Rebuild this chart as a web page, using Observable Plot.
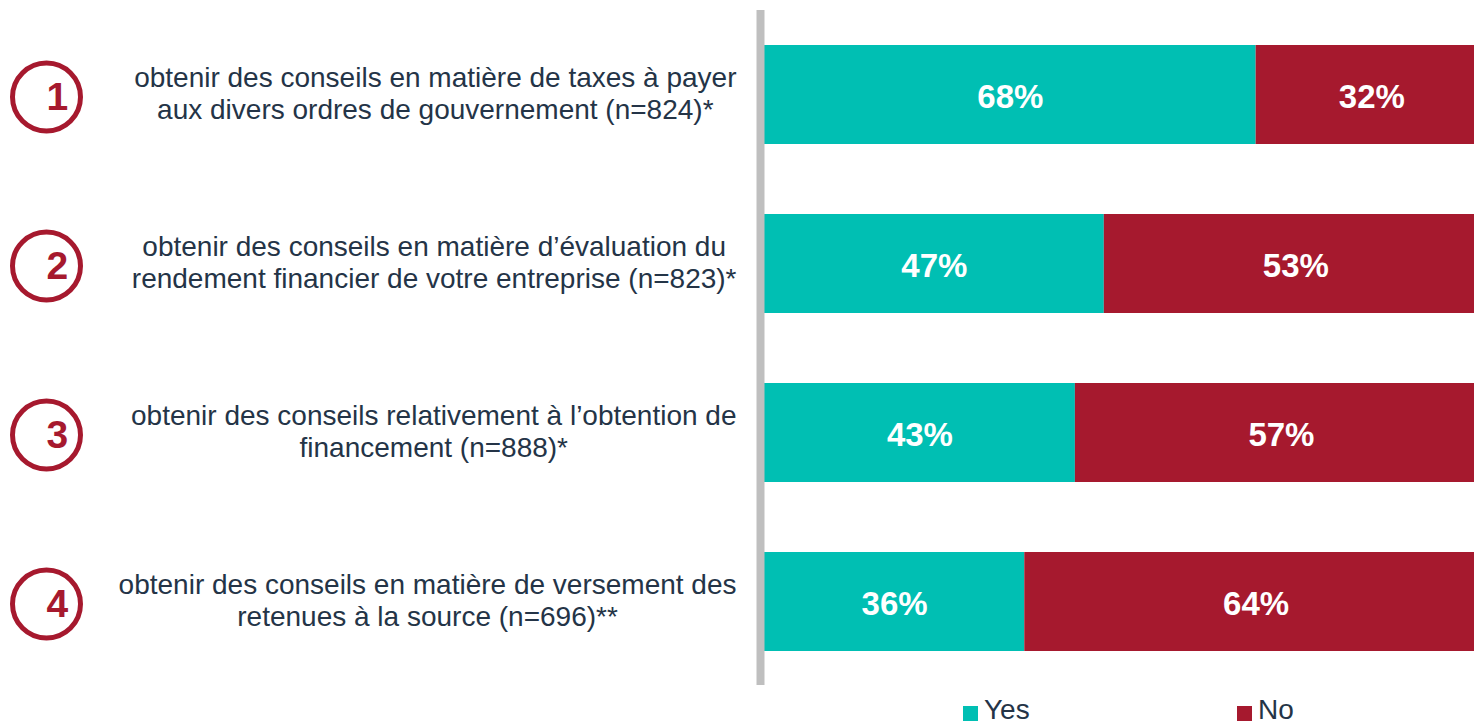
<!DOCTYPE html>
<html>
<head>
<meta charset="utf-8">
<script src="https://cdn.jsdelivr.net/npm/d3@7"></script>
<script src="https://cdn.jsdelivr.net/npm/@observablehq/plot@0.6"></script>
<style>
  html, body { margin: 0; padding: 0; background: #fff; overflow: hidden; }
  #wrap { position: relative; width: 1474px; height: 724px; overflow: hidden; font-family: "Liberation Sans", Arial, sans-serif; }
  #chart svg { display: block; overflow: hidden; }
  .legend { position: absolute; top: 696px; left: 0; width: 1474px; height: 28px; }
  .legend .item { position: absolute; top: 0; display: flex; align-items: center; font-size: 28px; line-height: 28px; color: #243447; }
  .legend .sw { width: 15px; height: 15px; margin-right: 6px; margin-top: 6px; }
</style>
</head>
<body>
<div id="wrap">
  <div id="chart"></div>
  <div class="legend" id="legend"></div>
</div>
<script>
const numbers = ["1", "2", "3", "4"];
const questions = [
  "obtenir des conseils en matière de taxes à payer\naux divers ordres de gouvernement (n=824)*",
  "obtenir des conseils en matière d’évaluation du\nrendement financier de votre entreprise (n=823)*",
  "obtenir des conseils relativement à l’obtention de\nfinancement (n=888)*",
  "obtenir des conseils en matière de versement des\nretenues à la source (n=696)**"
];
const yesValues = [68, 47, 43, 36];
const noValues = [32, 53, 57, 64];
const answers = ["Yes", "No"];
const colors = ["#00BFB3", "#A6192E"];

const rows = [];
numbers.forEach((n, i) => {
  rows.push({q: n, answer: "Yes", value: yesValues[i]});
  rows.push({q: n, answer: "No", value: noValues[i]});
});
const labels = numbers.map((n, i) => ({q: n, text: questions[i]}));

const labelSize = 28;
const ctx = document.createElement("canvas").getContext("2d");
ctx.font = `${labelSize}px 'Liberation Sans', Arial, sans-serif`;
function maxLineWidth(t) { return Math.max(...t.split("\n").map(l => ctx.measureText(l).width)); }
const labelGap = 28;

const plot = Plot.plot({
  width: 1474,
  height: 700,
  marginLeft: 764,
  marginRight: -13,
  marginTop: 10,
  marginBottom: 15,
  style: {fontFamily: "'Liberation Sans', Arial, sans-serif", background: "#fff"},
  x: {domain: [0, 100], axis: null},
  y: {domain: numbers, axis: null, paddingInner: 0.415, paddingOuter: 0.2},
  color: {domain: answers, range: colors},
  marks: [
    Plot.barX(rows, Plot.stackX({x: "value", y: "q", fill: "answer", z: "answer"})),
    Plot.text(rows, Plot.stackX({
      x: "value", y: "q", z: "answer",
      text: d => d.value + "%",
      fill: "white", fontWeight: "bold", fontSize: 33, dy: 2
    })),
    Plot.ruleX([0], {stroke: "#BFBFBF", strokeWidth: 8, dx: -4}),
    Plot.text(labels, {
      y: "q", text: "text", frameAnchor: "left", textAnchor: "middle", lineAnchor: "middle",
      lineHeight: 1.13, fontSize: labelSize, fill: "#243447",
      render: (index, scales, values, dims, context, next) => {
        const g = next(index, scales, values, dims, context);
        d3.select(g).selectAll("text").each(function(_, k) {
          const i = index[k];
          const shift = -(labelGap + maxLineWidth(labels[i].text) / 2);
          const y = (values.y ? values.y[i] : 0) - 2;
          const x0 = dims.marginLeft;
          this.setAttribute("transform", `translate(${x0 + shift},${y})`);
        });
        return g;
      }
    }),
    Plot.dot(labels, {y: "q", frameAnchor: "left", dx: -718, dy: 2, r: 34, stroke: "#A6192E", strokeWidth: 5, fill: "white"}),
    Plot.text(labels, {y: "q", text: "q", frameAnchor: "left", dx: -718, dy: 3, fontSize: 39, fontWeight: "bold", fill: "#A6192E"})
  ]
});
document.getElementById("chart").appendChild(plot);

const legend = document.getElementById("legend");
const legendLeft = [963, 1237];
answers.forEach((a, i) => {
  const item = document.createElement("div");
  item.className = "item";
  item.style.left = legendLeft[i] + "px";
  item.innerHTML = `<span class="sw" style="background:${colors[i]}"></span><span>${a}</span>`;
  legend.appendChild(item);
});
</script>
</body>
</html>
